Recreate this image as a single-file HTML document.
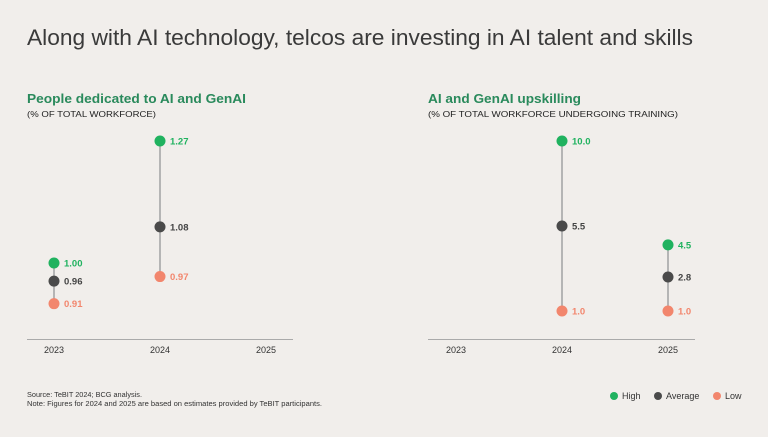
<!DOCTYPE html>
<html><head><meta charset="utf-8"><style>
body{margin:0;width:768px;height:432px;background:#f1eeeb;font-family:"Liberation Sans",sans-serif;overflow:hidden}
</style></head><body>
<svg width="768" height="432" xmlns="http://www.w3.org/2000/svg" font-family="Liberation Sans, sans-serif">
<text x="27" y="45" font-size="22" fill="#3a3a3a" textLength="666" lengthAdjust="spacingAndGlyphs">Along with AI technology, telcos are investing in AI talent and skills</text>
<text x="27" y="103" font-size="13" font-weight="bold" fill="#2a8a5c" textLength="219" lengthAdjust="spacingAndGlyphs">People dedicated to AI and GenAI</text>
<text x="27" y="117" font-size="8.5" fill="#222" textLength="129" lengthAdjust="spacingAndGlyphs">(% OF TOTAL WORKFORCE)</text>
<text x="428" y="103" font-size="13" font-weight="bold" fill="#2a8a5c" textLength="153" lengthAdjust="spacingAndGlyphs">AI and GenAI upskilling</text>
<text x="428" y="117" font-size="8.5" fill="#222" textLength="250" lengthAdjust="spacingAndGlyphs">(% OF TOTAL WORKFORCE UNDERGOING TRAINING)</text>
<line x1="27" x2="293" y1="339.5" y2="339.5" stroke="#aaa"/>
<line x1="428" x2="695" y1="339.5" y2="339.5" stroke="#aaa"/>
<g id="left"></g><g id="right"></g>
<text x="27" y="397" font-size="7" fill="#333" textLength="115" lengthAdjust="spacingAndGlyphs">Source: TeBIT 2024; BCG analysis.</text>
<text x="27" y="406" font-size="7" fill="#333" textLength="295" lengthAdjust="spacingAndGlyphs">Note: Figures for 2024 and 2025 are based on estimates provided by TeBIT participants.</text>
<g font-size="9" fill="#333">
<circle cx="614" cy="396" r="4" fill="#20b25f"/><text x="622" y="399">High</text>
<circle cx="658" cy="396" r="4" fill="#4a4a4a"/><text x="666" y="399">Average</text>
<circle cx="717" cy="396" r="4" fill="#f2866d"/><text x="725" y="399">Low</text>
</g>
</svg>
<script>
const years = ["2023","2024","2025"];
const leftHigh = [1.00, 1.27, null];
const leftAvg = [0.96, 1.08, null];
const leftLow = [0.91, 0.97, null];
const rightHigh = [null, 10.0, 4.5];
const rightAvg = [null, 5.5, 2.8];
const rightLow = [null, 1.0, 1.0];
const NS="http://www.w3.org/2000/svg";
function mk(tag,attrs,parent){const e=document.createElementNS(NS,tag);for(const k in attrs)e.setAttribute(k,attrs[k]);parent.appendChild(e);return e;}
function draw(gid,x0,yScale,hi,av,lo,dec,prefix){
  const g=document.getElementById(gid);
  const xS=i=>x0+i*106;
  years.forEach((y,i)=>{
    const t=mk("text",{x:xS(i),y:353,"font-size":9,"text-anchor":"middle",fill:"#333"},g);
    
    
    t.textContent=y;
    if(hi[i]==null)return;
    const l=mk("line",{x1:xS(i),x2:xS(i),y1:yScale(hi[i]),y2:yScale(lo[i]),stroke:"#b5b5b5","stroke-width":2},g);
    
    
    [[hi,"#20b25f","high"],[av,"#4a4a4a","average"],[lo,"#f2866d","low"]].forEach(([arr,c,n])=>{
      const cy=yScale(arr[i]);
      const ci=mk("circle",{cx:xS(i),cy:cy,r:5.5,fill:c},g);
      
      
      const tx=mk("text",{x:xS(i)+10,y:cy+3.5,"font-size":9.5,"font-weight":"bold",fill:c==="#4a4a4a"?"#444":c},g);
      
      
      tx.textContent=arr[i].toFixed(dec);
    });
  });
}
draw("left",54,v=>263-(v-1)*452,leftHigh,leftAvg,leftLow,2,"left");
draw("right",456,v=>311-(v-1)*18.89,rightHigh,rightAvg,rightLow,1,"right");
</script>
</body></html>
